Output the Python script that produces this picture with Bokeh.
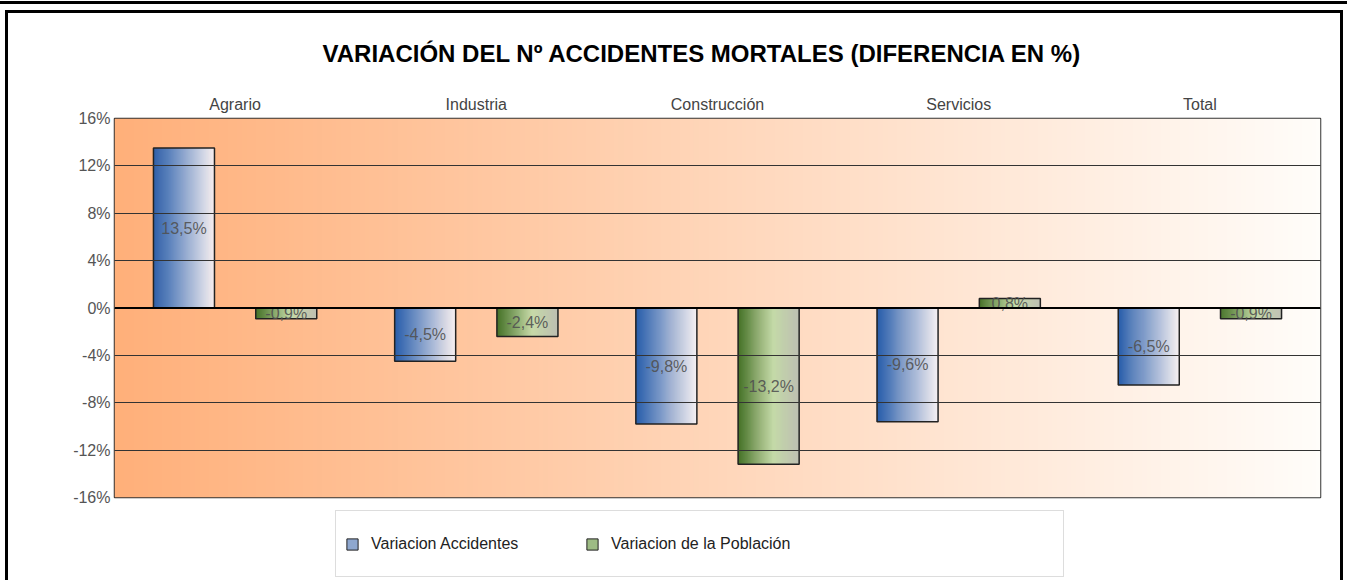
import numpy as np
from bokeh.plotting import figure
from bokeh.layouts import column, row
from bokeh.models import (ColumnDataSource, FixedTicker, Range1d, Legend, LegendItem,
                          Span, Div)
from bokeh.transform import dodge
from bokeh.core.properties import value
from bokeh.embed import file_html
from bokeh.resources import INLINE

# ---------------- data ----------------
categories = ["Agrario", "Industria", "Construcción", "Servicios", "Total"]
var_accidentes = [13.5, -4.5, -9.8, -9.6, -6.5]
var_poblacion = [-0.9, -2.4, -13.2, 0.8, -0.9]
series_names = ["Variacion Accidentes", "Variacion de la Población"]
y_ticks = [-16, -12, -8, -4, 0, 4, 8, 12, 16]
y_tick_labels = ["-16%", "-12%", "-8%", "-4%", "0%", "4%", "8%", "12%", "16%"]
title_text = "VARIACIÓN DEL Nº ACCIDENTES MORTALES (DIFERENCIA EN %)"

FONT = "Liberation Sans"


def fmt(v):
    return f"{v:.1f}".replace(".", ",") + "%"


src = ColumnDataSource(dict(
    cat=categories,
    a=var_accidentes,
    b=var_poblacion,
    a_mid=[v / 2 for v in var_accidentes],
    b_mid=[v / 2 for v in var_poblacion],
    a_lab=[fmt(v) for v in var_accidentes],
    b_lab=[fmt(v) for v in var_poblacion],
))

W, H1, H2 = 1332, 495, 72
p = figure(
    x_range=categories,
    y_range=Range1d(y_ticks[0], y_ticks[-1]),
    width=W, height=H1,
    output_backend="svg", toolbar_location=None,
    x_axis_location="above",
    min_border_left=106, min_border_right=20,
    min_border_top=105, min_border_bottom=11,
    border_fill_color="white",
    background_fill_color="#FFD6BA",
)

# ---------------- background gradient (plot area) ----------------
n_bg = 256
t = np.linspace(0, 1, n_bg)
c0 = np.array([255, 176, 122], dtype=float)
c1 = np.array([255, 253, 250], dtype=float)
cols = c0[None, :] * (1 - t[:, None]) + c1[None, :] * t[:, None]
img = np.zeros((1, n_bg), dtype=np.uint32)
view = img.view(dtype=np.uint8).reshape((1, n_bg, 4))
view[0, :, 0] = cols[:, 0]
view[0, :, 1] = cols[:, 1]
view[0, :, 2] = cols[:, 2]
view[0, :, 3] = 255
p.image_rgba(image=[img], x=0, y=y_ticks[0], dw=len(categories),
             dh=y_ticks[-1] - y_ticks[0], level="image")


# ---------------- gradient bars ----------------
def interp(stops, tk):
    for (t0, col0), (t1, col1) in zip(stops[:-1], stops[1:]):
        if t0 <= tk <= t1:
            f = (tk - t0) / (t1 - t0)
            c = [int(round(a + (b - a) * f)) for a, b in zip(col0, col1)]
            return "#%02x%02x%02x" % tuple(c)
    c = stops[-1][1]
    return "#%02x%02x%02x" % tuple(c)


bar_w = 0.253
offsets = [-0.212, 0.212]
stops_blue = [(0.0, (38, 92, 170)), (1.0, (246, 240, 242))]
stops_green = [(0.0, (68, 112, 38)), (0.58, (196, 218, 168)), (1.0, (190, 190, 178))]
N = 60
for col, off, stops in [("a", offsets[0], stops_blue), ("b", offsets[1], stops_green)]:
    for k in range(N):
        tk = (k + 0.5) / N
        p.vbar(x=dodge("cat", off - bar_w / 2 + tk * bar_w, range=p.x_range),
               top=col, bottom=0, width=bar_w / N * 1.6, source=src,
               fill_color=interp(stops, tk), line_color=None)
    p.vbar(x=dodge("cat", off, range=p.x_range), top=col, bottom=0, width=bar_w,
           source=src, fill_color=None, line_color="#222222", line_width=1.5)

for col, off in [("a", offsets[0]), ("b", offsets[1])]:
    p.text(x=dodge("cat", off, range=p.x_range), y=col + "_mid", text=col + "_lab",
           source=src, text_align="center", text_baseline="middle",
           text_font=value(FONT), text_font_size="16px", text_color="#505050",
           text_alpha=0.9)

# ---------------- grid / zero line ----------------
p.xgrid.visible = False
p.ygrid.ticker = FixedTicker(ticks=y_ticks)
p.ygrid.grid_line_color = "#333333"
p.ygrid.grid_line_width = 1
p.ygrid.level = "overlay"
p.add_layout(Span(location=0, dimension="width", line_color="black",
                  line_width=2, level="overlay"))

p.outline_line_color = "#333333"
p.outline_line_width = 1.5

# ---------------- axes ----------------
p.yaxis.ticker = FixedTicker(ticks=y_ticks)
p.yaxis.major_label_overrides = {tk: lb for tk, lb in zip(y_ticks, y_tick_labels)}
p.yaxis.major_tick_line_color = None
p.yaxis.major_tick_out = 0
p.yaxis.minor_tick_line_color = None
p.yaxis.axis_line_color = None
p.yaxis.major_label_text_font = FONT
p.yaxis.major_label_text_font_size = "16px"
p.yaxis.major_label_text_color = "#555555"
p.yaxis.major_label_standoff = 4

p.xaxis.major_tick_line_color = None
p.xaxis.major_tick_out = 0
p.xaxis.axis_line_color = None
p.xaxis.major_label_text_font = FONT
p.xaxis.major_label_text_font_size = "16px"
p.xaxis.major_label_text_color = "#444444"
p.xaxis.major_label_standoff = 6

# ---------------- title ----------------
p.title.text = title_text
p.title.align = "left"
p.title.offset = 208
p.title.vertical_align = "top"
p.title.text_font = FONT
p.title.text_font_style = "bold"
p.title.text_font_size = "24px"
p.title.text_color = "black"
p.title.standoff = 48

# ---------------- legend (own strip below the chart) ----------------
p2 = figure(width=W, height=H2, x_range=Range1d(0, 1), y_range=Range1d(0, 1),
            output_backend="svg", toolbar_location=None,
            x_axis_location=None, y_axis_location=None, min_border=0,
            border_fill_color="white", background_fill_color="white")
p2.grid.visible = False
p2.outline_line_color = None
ra = p2.vbar(x=[-5], top=[-5], width=0.1, fill_color="#8ea7cf", line_color="#222222", line_width=1)
rb = p2.vbar(x=[-5], top=[-5], width=0.1, fill_color="#9dbb84", line_color="#222222", line_width=1)
rc = p2.vbar(x=[-5], top=[-5], width=0.1, fill_alpha=0, line_alpha=0)
legend = Legend(
    items=[LegendItem(label=series_names[0], renderers=[ra]),
           LegendItem(label=series_names[1], renderers=[rb]),
           LegendItem(label=" ", renderers=[rc])],
    orientation="horizontal", location=(221, 3),
    glyph_width=14, glyph_height=14, label_standoff=12, label_width=203,
    spacing=11, padding=9, label_height=47, margin=0,
    border_line_color="#BBBBBB", border_line_width=1,
    background_fill_color="white", background_fill_alpha=1,
    label_text_font=FONT, label_text_font_size="16px", label_text_color="#222222",
)
p2.add_layout(legend, "center")

# ---------------- page frame (black rules around the chart) ----------------
BLACK = {"background-color": "black"}
lead = Div(width=1347, height=1, margin=0)
top_rule = Div(width=1347, height=3, margin=0, styles=BLACK)
gap = Div(width=1347, height=6, margin=0)
left_gap = Div(width=5, height=570, margin=0)
left_rule = Div(width=3, height=570, margin=0, styles=BLACK)
right_rule = Div(width=3, height=570, margin=0, styles=BLACK)
inner_top = Div(width=W, height=3, margin=0, styles=BLACK)

layout = column(
    lead,
    top_rule,
    gap,
    row(left_gap, left_rule, column(inner_top, p, p2, spacing=0), right_rule, spacing=0),
    spacing=0,
)
open("out.html", "w").write(file_html(layout, INLINE))
